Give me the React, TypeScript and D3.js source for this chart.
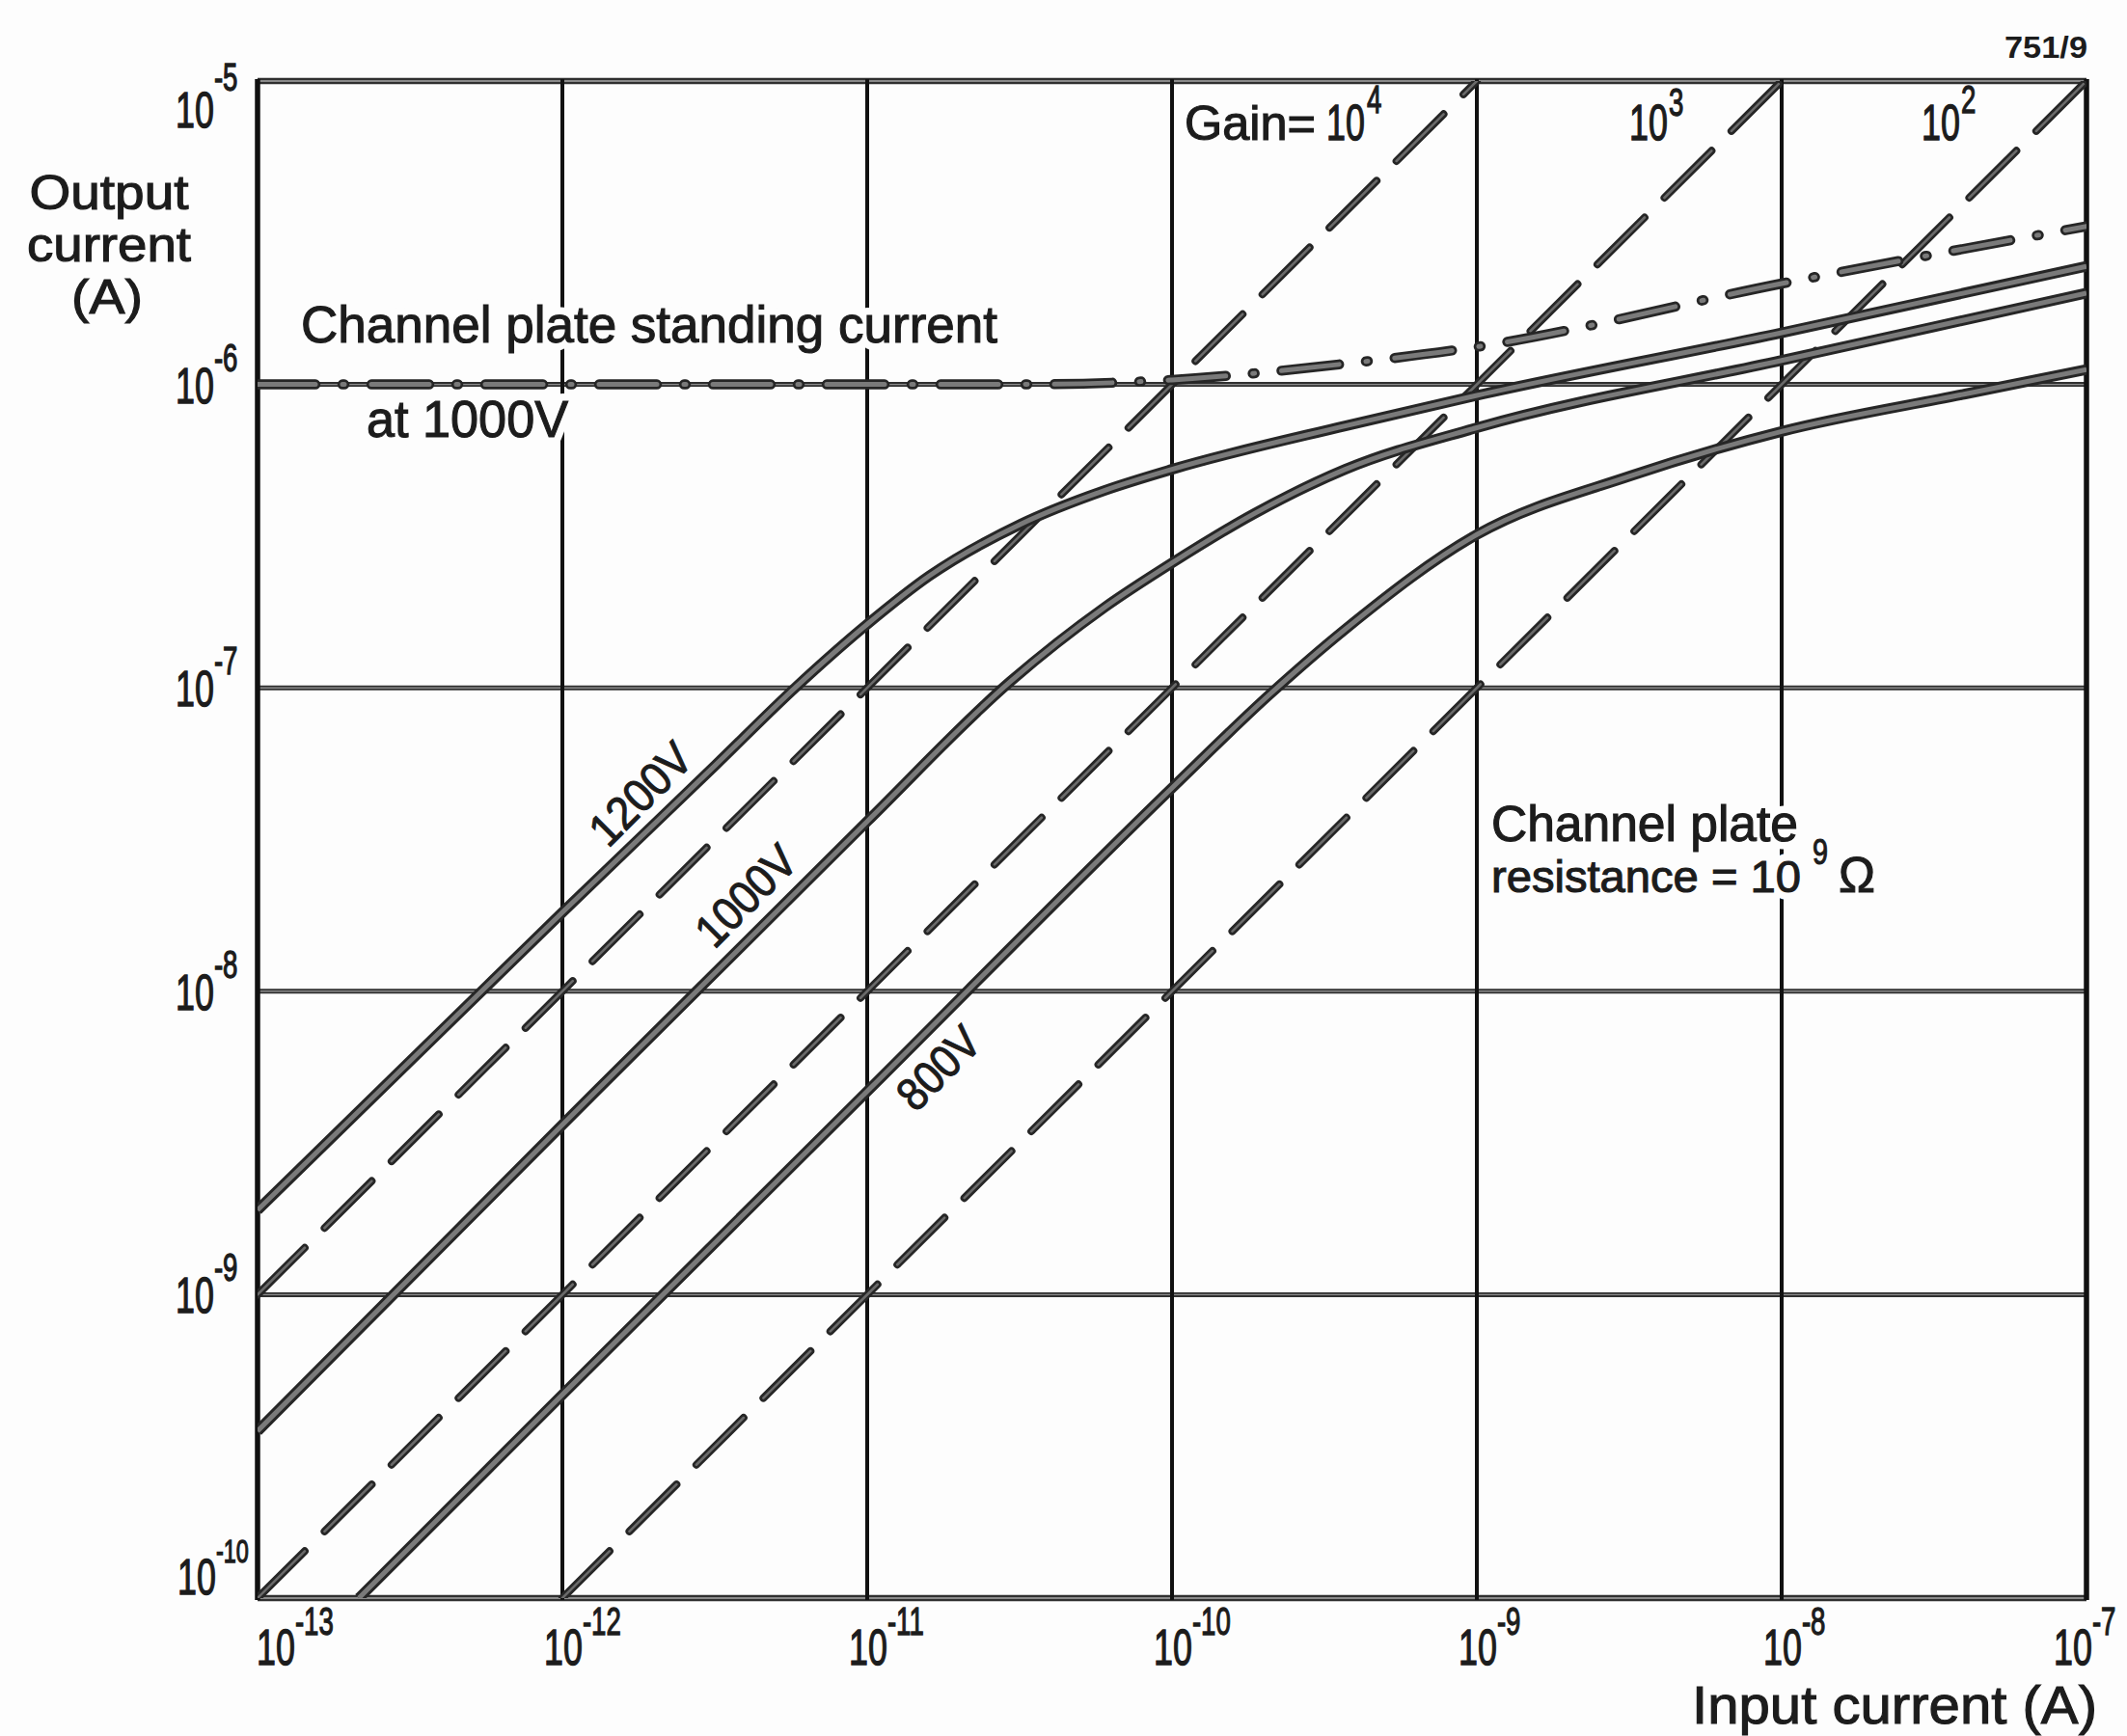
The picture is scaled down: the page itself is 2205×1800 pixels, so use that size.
import React from 'react';
import * as d3 from 'd3';

// Decade exponents on the two logarithmic axes
const xExponents = [-13, -12, -11, -10, -9, -8, -7];
const yExponents = [-10, -9, -8, -7, -6, -5];

// Constant-gain reference lines (output = gain × input)
const gains = [1e4, 1e3, 1e2];
const gainFrom = [1e-13, 1e-13, 1e-12];
const gainTo = [1e-9, 1e-8, 1e-7];

// Output current vs input current at three channel plate voltages
const input1200 = [1e-13, 1e-12, 3.2e-12, 5.8e-12, 1e-11, 1.6e-11, 3.2e-11, 6e-11, 1e-10, 3.7e-10, 1e-9, 1e-8, 1e-7];
const output1200 = [1.9e-9, 1.82e-8, 5.6e-8, 1.0e-7, 1.62e-7, 2.34e-7, 3.47e-7, 4.47e-7, 5.25e-7, 7.3e-7, 9.2e-7, 1.48e-6, 2.45e-6];

const input1000 = [1e-13, 1e-12, 1e-11, 2.95e-11, 6e-11, 1e-10, 1.86e-10, 3.7e-10, 1e-9, 1e-8, 1e-7];
const output1000 = [3.55e-10, 3.63e-9, 3.63e-8, 1.05e-7, 1.84e-7, 2.58e-7, 3.75e-7, 5.25e-7, 7.2e-7, 1.2e-6, 2.0e-6];

const input800 = [2.15e-13, 1e-12, 1e-11, 1e-10, 2.1e-10, 3.7e-10, 1e-9, 3.2e-9, 1e-8, 4e-8, 1e-7];
const output800 = [1e-10, 4.68e-10, 4.68e-9, 4.68e-8, 9.55e-8, 1.56e-7, 3.2e-7, 5.0e-7, 7.0e-7, 9.3e-7, 1.12e-6];

// Channel plate standing current at 1000 V
const standingInput = [1e-13, 3.2e-11, 1e-10, 3.7e-10, 1e-9, 1e-8, 1e-7];
const standingOutput = [1e-6, 1e-6, 1.035e-6, 1.17e-6, 1.33e-6, 2.15e-6, 3.32e-6];

const voltageLabels = ['1200V', '1000V', '800V'];

const SANS = "'Liberation Sans', Arial, Helvetica, sans-serif";
const INK = '#1c1c1c';
const PAPER = '#fdfdfd';

const W = 2205;
const H = 1800;
const LEFT = 267, RIGHT = 2163, TOP = 84, BOTTOM = 1657;

type Pt = [number, number];
const zip = (a: number[], b: number[]): Pt[] => a.map((v, i) => [v, b[i]] as Pt);

function InkPath({ d, width, inner, dash, cap = 'round', clip, core = '#7a7a7a' }: { d: string; width: number; inner: number; dash?: string; cap?: 'round' | 'butt'; clip?: string; core?: string }) {
  return (
    <g clipPath={clip}>
      <path d={d} fill="none" stroke="#262626" strokeWidth={width} strokeDasharray={dash} strokeLinecap={cap} strokeLinejoin="round" />
      <path d={d} fill="none" stroke={core} strokeWidth={inner} strokeDasharray={dash} strokeLinecap={cap} strokeLinejoin="round" />
    </g>
  );
}

// Text drawn with a slightly heavier ink; optional white knock-out behind it
function Label({ x, y, size, len, anchor = 'start', halo = false, transform, children }: { x?: number; y?: number; size: number; len?: number; anchor?: 'start' | 'middle' | 'end'; halo?: boolean; transform?: string; children: React.ReactNode }) {
  const common = {
    x, y, transform,
    fontFamily: SANS,
    fontSize: size,
    textAnchor: anchor,
    textLength: len,
    lengthAdjust: len ? 'spacingAndGlyphs' : undefined,
  } as any;
  return (
    <g>
      {halo && <text {...common} fill={PAPER} stroke={PAPER} strokeWidth={16} strokeLinejoin="round">{children}</text>}
      <text {...common} fill={INK} stroke={INK} strokeWidth={1.1}>{children}</text>
    </g>
  );
}

// "10" with a raised exponent in one condensed text run
function Power({ x, y, exp, size = 52, squeeze = 0.69, supSize = 40, rise = 32, gap = 1 }: { x: number; y: number; exp: string; size?: number; squeeze?: number; supSize?: number; rise?: number; gap?: number }) {
  return (
    <text transform={`translate(${x},${y}) scale(${squeeze},1)`} fontFamily={SANS} fontSize={size} fill={INK} stroke={INK} strokeWidth={1.3}>
      <tspan>10</tspan>
      <tspan fontSize={supSize} dx={gap / squeeze} dy={-rise}>{exp}</tspan>
    </text>
  );
}

export default function App() {
  const x = d3.scaleLog().domain([1e-13, 1e-7]).range([LEFT, RIGHT]);
  const y = d3.scaleLog().domain([1e-10, 1e-5]).range([BOTTOM, TOP]);

  const smooth = d3.line<Pt>().x(d => x(d[0])).y(d => y(d[1])).curve(d3.curveMonotoneX);
  const straight = d3.line<Pt>().x(d => x(d[0])).y(d => y(d[1]));

  const curves = [zip(input1200, output1200), zip(input1000, output1000), zip(input800, output800)];
  const standing = zip(standingInput, standingOutput);
  const gainLines = gains.map((g, i) => [[gainFrom[i], gainFrom[i] * g], [gainTo[i], gainTo[i] * g]] as Pt[]);

  // centres of the rotated voltage captions, set just off their curves
  const voltagePos: Pt[] = [[1.8e-12, 4.48e-8], [3.99e-12, 2.07e-8], [1.71e-11, 5.6e-9]];
  const voltageLen = [128, 126, 100];

  return (
    <svg width={W} height={H} viewBox={`0 0 ${W} ${H}`} style={{ position: 'absolute', left: 0, top: 0, display: 'block' }}>
      <defs>
        <clipPath id="plot-area">
          <rect x={LEFT} y={TOP} width={RIGHT - LEFT} height={BOTTOM - TOP} />
        </clipPath>
      </defs>
      <rect width={W} height={H} fill={PAPER} />

      {/* horizontal grid */}
      {yExponents.map(e => {
        const yy = y(Math.pow(10, e));
        const edge = e === -10 || e === -5;
        return (
          <g key={`h${e}`}>
            <line x1={LEFT} x2={RIGHT} y1={yy} y2={yy} stroke="#303030" strokeWidth={edge ? 6.5 : 5} />
            <line x1={LEFT} x2={RIGHT} y1={yy} y2={yy} stroke="#8a8a8a" strokeWidth={edge ? 2 : 1.4} />
          </g>
        );
      })}
      {/* vertical grid */}
      {xExponents.map(e => {
        const xx = x(Math.pow(10, e));
        const edge = e === -13 || e === -7;
        return <line key={`v${e}`} x1={xx} x2={xx} y1={TOP - 2} y2={BOTTOM + 2} stroke="#111" strokeWidth={edge ? 5.5 : 4} />;
      })}

      {/* captions that break the grid behind them */}
      <Label x={312} y={355} size={53} len={722} halo>Channel plate standing current</Label>
      <Label x={380} y={453} size={53} len={209} halo>at 1000V</Label>
      <Label x={1546} y={872} size={51} len={318} halo>Channel plate</Label>
      <Label x={1546} y={925} size={47} len={321} halo>resistance = 10</Label>
      <Label x={1879} y={896} size={36} len={16}>9</Label>
      <Label x={1906} y={925} size={52} len={38}>Ω</Label>

      {/* gain reference lines */}
      {gainLines.map((pts, i) => (
        <InkPath key={`g${i}`} d={straight(pts) || ''} width={8} inner={2.6} dash="69 29" clip="url(#plot-area)" core="#6a6a6a" />
      ))}

      {/* standing current */}
      <InkPath d={smooth(standing) || ''} width={10.5} inner={5} dash="60 28 2 28" clip="url(#plot-area)" />

      {/* voltage curves */}
      {curves.map((pts, i) => (
        <InkPath key={`c${i}`} d={smooth(pts) || ''} width={11} inner={5} cap="butt" clip="url(#plot-area)" />
      ))}

      {/* voltage captions */}
      {voltageLabels.map((t, i) => (
        <Label key={t} size={48} len={voltageLen[i]} anchor="middle"
          transform={`translate(${x(voltagePos[i][0])},${y(voltagePos[i][1])}) rotate(-45) translate(0,17)`}>{t}</Label>
      ))}

      {/* gain captions */}
      <Label x={1228} y={145} size={50} len={136}>Gain=</Label>
      <Power x={1375} y={145} exp="4" rise={28} gap={2} />
      <Power x={1689} y={145} exp="3" rise={25} gap={1} />
      <Power x={1992} y={145} exp="2" rise={28} gap={1} />

      {/* y tick labels */}
      {yExponents.map(e => {
        const yy = y(Math.pow(10, e));
        const base = e === -5 ? 132 : e === -10 ? 1653 : yy + 19;
        return <Power key={`yt${e}`} x={e === -10 ? 184 : 182} y={base} exp={`-${-e}`} supSize={e === -10 ? 34 : 40} rise={e === -5 ? 38 : 33} gap={0} />;
      })}

      {/* x tick labels */}
      {xExponents.map((e, i) => {
        const xx = x(Math.pow(10, e));
        const left = i === 0 ? LEFT - 1 : i === xExponents.length - 1 ? xx - 34 : xx - 19;
        return <Power key={`xt${e}`} x={left} y={1726} exp={`-${-e}`} rise={31} gap={0} />;
      })}

      {/* axis titles */}
      <Label x={113} y={217} size={50} len={165} anchor="middle">Output</Label>
      <Label x={113} y={271} size={50} len={170} anchor="middle">current</Label>
      <Label x={111} y={325} size={50} len={74} anchor="middle">(A)</Label>
      <Label x={2174} y={1787} size={56} len={420} anchor="end">Input current (A)</Label>

      <text x={2164} y={60} textAnchor="end" fontFamily={SANS} fontWeight="bold" fontSize={32} textLength={86} lengthAdjust="spacingAndGlyphs" fill={INK}>751/9</text>
    </svg>
  );
}
